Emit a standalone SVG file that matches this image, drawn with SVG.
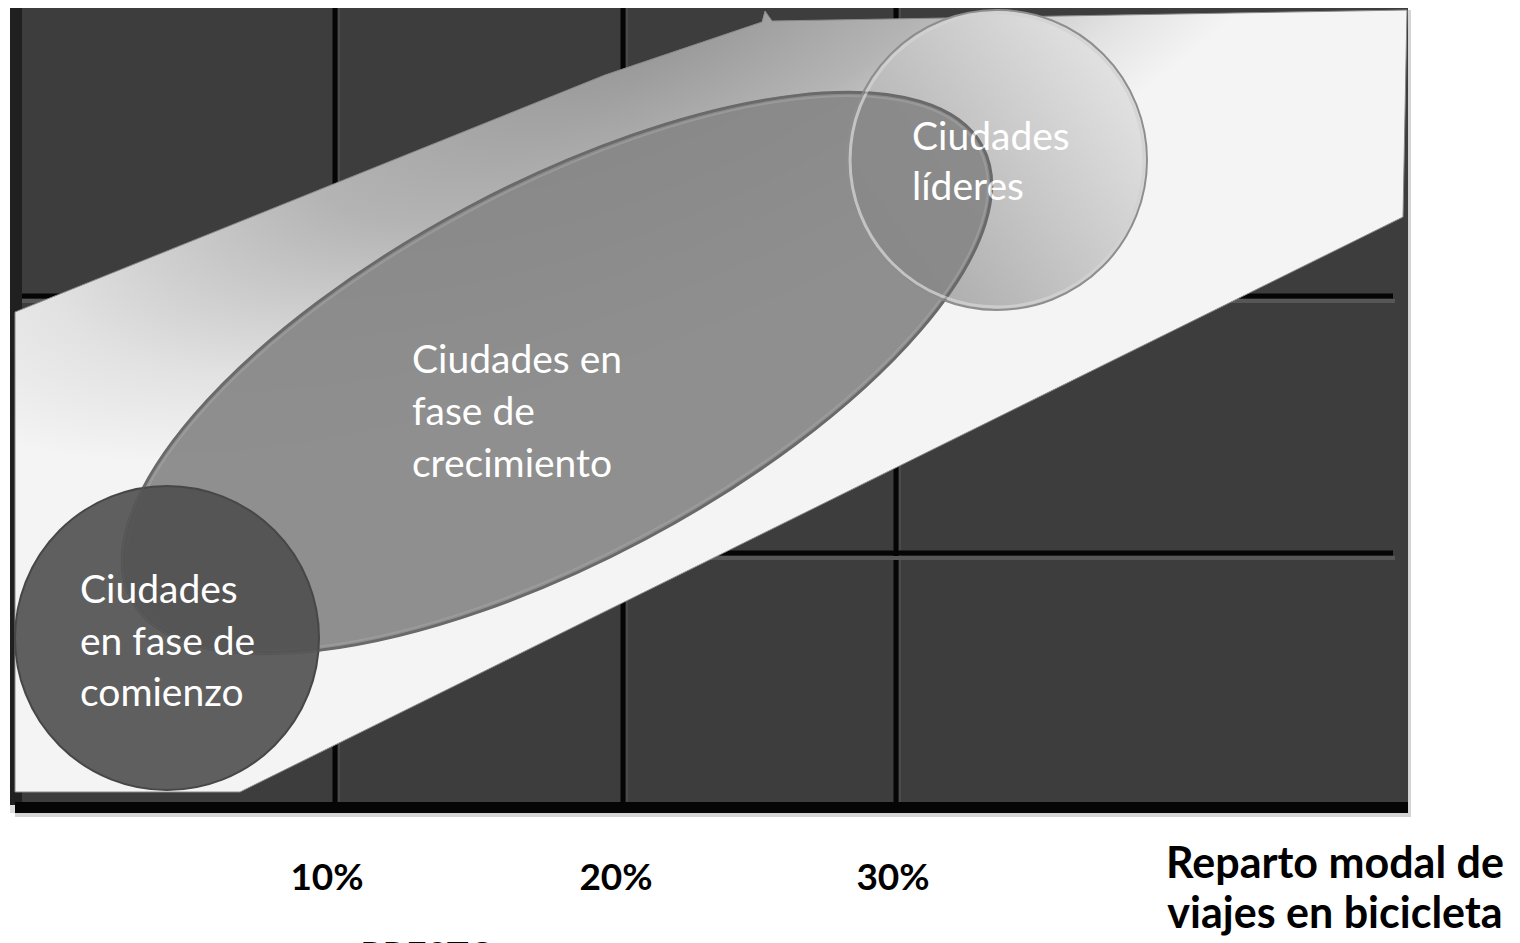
<svg xmlns="http://www.w3.org/2000/svg" width="1520" height="943" viewBox="0 0 1520 943">
<defs>
<radialGradient id="bandGrad" gradientUnits="userSpaceOnUse" cx="0" cy="0" r="1" gradientTransform="translate(650 30) rotate(-24) scale(820 300)">
<stop offset="0" stop-color="#949494"/>
<stop offset="0.45" stop-color="#b4b4b4"/>
<stop offset="0.8" stop-color="#e2e2e2"/>
<stop offset="1" stop-color="#f4f4f4"/>
</radialGradient>
<linearGradient id="leadGrad" gradientUnits="userSpaceOnUse" x1="860" y1="260" x2="1140" y2="60">
<stop offset="0" stop-color="#a6a6a6"/>
<stop offset="1" stop-color="#e6e6e6"/>
</linearGradient>
<style>
.vline{stroke:#050505;stroke-width:5}
.vsh{stroke:#4a4a4a;stroke-width:2}
.hline{stroke:#050505;stroke-width:5}
.hsh{stroke:#575757;stroke-width:4}
.lbl{font-family:Lato,"Open Sans",sans-serif;font-size:39px;fill:#ffffff}
.ax{font-family:Lato,"Liberation Sans",sans-serif;font-weight:bold;fill:#000000}
</style>
</defs>
<rect width="1520" height="943" fill="#ffffff"/>
<g id="grid">
<rect x="1408" y="10" width="3" height="807" fill="#d4d4d4"/>
<rect x="10" y="8" width="1398" height="800" fill="#3d3d3d"/>
<rect x="10" y="8" width="12" height="800" fill="#202020"/>
<line class="vsh" x1="339" y1="8" x2="339" y2="805"/>
<line class="vsh" x1="627" y1="8" x2="627" y2="805"/>
<line class="vsh" x1="900" y1="8" x2="900" y2="805"/>
<line class="vline" x1="335" y1="8" x2="335" y2="805"/>
<line class="vline" x1="623" y1="8" x2="623" y2="805"/>
<line class="vline" x1="896" y1="8" x2="896" y2="805"/>
<line class="hsh" x1="22" y1="301" x2="1395" y2="301"/>
<line class="hsh" x1="22" y1="558" x2="1395" y2="558"/>
<line class="hline" x1="22" y1="296" x2="1393" y2="296"/>
<line class="hline" x1="22" y1="553" x2="1393" y2="553"/>
<rect x="15" y="802" width="1393" height="11" fill="#050505"/>
<rect x="15" y="813" width="1396" height="4" fill="#d4d4d4"/>
<rect x="10" y="805" width="5" height="8" fill="#dcdcdc"/>
</g>
<g id="band">
<polygon points="15,312 605,75 762,22 765,11 772,21 1407,10 1403,217 240,792 15,792" fill="url(#bandGrad)" stroke="#8a8a8a" stroke-width="1"/>
</g>
<g id="connectors"/>
<g id="lideres">
<circle cx="997" cy="160" r="150" fill="url(#leadGrad)"/>
</g>
<g id="crecimiento">
<ellipse cx="557" cy="373" rx="482" ry="188" transform="rotate(-28 557 373)" fill="#878787" fill-opacity="0.93" stroke="#6a6a6a" stroke-width="3"/>
<ellipse cx="557" cy="373" rx="478" ry="184" transform="rotate(-28 557 373)" fill="none" stroke="#a4a4a4" stroke-width="2" stroke-opacity="0.6"/>
<text class="lbl" x="412" y="373">Ciudades en</text>
<text class="lbl" x="412" y="425">fase de</text>
<text class="lbl" x="412" y="477">crecimiento</text>
</g>
<g id="lideres-rim">
<circle cx="997" cy="160" r="150" fill="none" stroke="#8e8e8e" stroke-width="2"/>
<circle cx="997" cy="160" r="147" fill="none" stroke="#d2d2d2" stroke-width="3" stroke-opacity="0.8"/>
<text class="lbl" x="912" y="150">Ciudades</text>
<text class="lbl" x="912" y="200">líderes</text>
</g>
<g id="comienzo">
<circle cx="167" cy="638" r="152" fill="#4f4f4f" fill-opacity="0.9" stroke="#474747" stroke-width="2"/>
<ellipse cx="557" cy="373" rx="482" ry="188" transform="rotate(-28 557 373)" fill="none" stroke="#6a6a6a" stroke-width="2" stroke-opacity="0.35"/>
<text class="lbl" x="80" y="603">Ciudades</text>
<text class="lbl" x="80" y="655">en fase de</text>
<text class="lbl" x="80" y="706">comienzo</text>
</g>
<g id="axis">
<text class="ax" x="327" y="890" font-size="37" text-anchor="middle">10%</text>
<text class="ax" x="616" y="890" font-size="37" text-anchor="middle">20%</text>
<text class="ax" x="893" y="890" font-size="37" text-anchor="middle">30%</text>
<text class="ax" x="1335" y="878" font-size="43" text-anchor="middle">Reparto modal de</text>
<text class="ax" x="1335" y="928" font-size="43" text-anchor="middle">viajes en bicicleta</text>
</g>
<g id="source">
<text x="360" y="968" font-family="Lato,'Open Sans',sans-serif" font-size="37" fill="#000000">PRESTO</text>
</g>
</svg>
